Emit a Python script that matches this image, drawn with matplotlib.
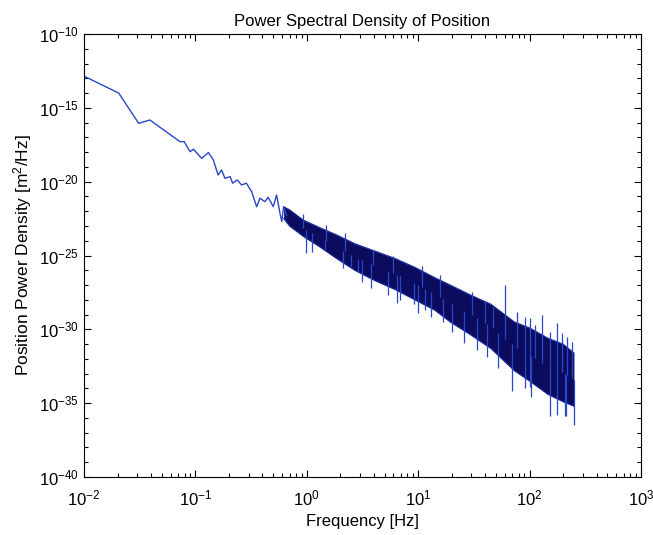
import numpy as np
import matplotlib.pyplot as plt
from matplotlib.ticker import LogLocator, LogFormatterSciNotation, NullFormatter

plt.rcParams['font.family'] = ['Liberation Sans', 'DejaVu Sans']
plt.rcParams['mathtext.default'] = 'regular'

# sparse low-frequency part of the spectrum (Hz, log10 of m^2/Hz)
freq_low = [0.01, 0.0205, 0.031, 0.039, 0.0728, 0.0794, 0.0895, 0.096, 0.114, 0.131,
            0.145, 0.16, 0.172, 0.184, 0.205, 0.216, 0.237, 0.26, 0.287, 0.32,
            0.355, 0.38, 0.42, 0.45, 0.5, 0.536, 0.575, 0.596, 0.62, 0.66]
logpsd_low = [-12.85, -14.0, -16.05, -15.82, -17.29, -17.29, -17.97, -17.8, -18.42, -18.03,
              -18.53, -19.55, -19.2, -19.77, -19.66, -20.1, -19.88, -20.22, -20.1, -20.68,
              -21.7, -21.12, -21.35, -21.06, -21.69, -20.9, -22.14, -22.7, -21.7, -22.3]

# dense part: envelope of the noisy band
freq_band = [0.62, 0.7, 0.93, 1.3, 1.85, 2.7, 4.1, 6.2, 9.35, 14.1, 19.4,
             30.0, 45.0, 73.0, 100.0, 146.0, 200.0, 250.0]
band_upper = [-21.7, -21.9, -22.6, -23.1, -23.6, -24.2, -24.7, -25.2, -25.8, -26.5, -27.0,
              -27.7, -28.3, -29.5, -29.9, -30.6, -31.0, -31.6]
band_lower = [-22.5, -23.0, -23.7, -24.4, -25.2, -26.0, -26.7, -27.3, -28.0, -28.7, -29.5,
              -30.4, -31.3, -32.8, -33.5, -34.4, -34.9, -35.2]

# isolated spikes sticking out of the band
spike_up_freq = [0.93, 1.5, 2.2, 3.97, 6.0, 10.8, 15.8, 30.2, 39.5, 47.0, 60.5, 77.6,
                 91.0, 100.5, 113.0, 130.0, 153.0, 176.0, 195.0, 216.0, 240.0]
spike_up_tip = [-22.2, -22.9, -23.5, -24.6, -25.0, -25.7, -26.3, -27.5, -28.1, -28.5, -27.0, -28.8,
                -29.14, -29.25, -29.7, -29.03, -30.16, -29.6, -30.27, -30.5, -30.83]
spike_dn_freq = [0.98, 1.11, 1.46, 2.13, 2.5, 2.9, 3.1, 3.8, 5.4, 6.4, 6.9, 9.1, 10.0,
                 11.4, 12.9, 16.7, 20.0, 26.0, 33.5, 41.6, 52.5, 69.6, 91.0, 100.0, 104.0,
                 153.0, 176.0, 207.0, 214.0, 251.0]
spike_dn_tip = [-24.85, -24.74, -24.6, -25.86, -25.8, -26.1, -26.77, -27.2, -27.67, -28.2, -28.0,
                -28.3, -28.9, -28.7, -29.14, -29.5, -30.16, -30.94, -31.4, -31.85, -32.64,
                -34.2, -33.99, -33.9, -34.56, -35.9, -35.8, -35.9, -35.9, -36.47]

fig = plt.figure(figsize=(6.53, 5.35), dpi=100)
ax = fig.add_axes([0.1286, 0.1084, 0.853, 0.828])

line_col = '#2846c8'
band_col = '#0c0c5e'

ax.plot(freq_low, 10.0 ** np.array(logpsd_low), color=line_col, lw=1.0)
ax.fill_between(freq_band, 10.0 ** np.array(band_upper), 10.0 ** np.array(band_lower),
                color=band_col, lw=0)
ax.plot(freq_band, 10.0 ** np.array(band_upper), color='#1a2a9a', lw=0.8)
ax.plot(freq_band, 10.0 ** np.array(band_lower), color='#1a2a9a', lw=0.8)

# spikes run from the middle of the band out to their tip
band_mid = (np.array(band_upper) + np.array(band_lower)) / 2
up_base = 10.0 ** np.interp(np.log10(spike_up_freq), np.log10(freq_band), band_mid)
dn_base = 10.0 ** np.interp(np.log10(spike_dn_freq), np.log10(freq_band), band_mid)
ax.vlines(spike_up_freq, up_base, 10.0 ** np.array(spike_up_tip), color=line_col, lw=0.9)
ax.vlines(spike_dn_freq, 10.0 ** np.array(spike_dn_tip), dn_base, color=line_col, lw=0.9)

ax.set_xscale('log')
ax.set_yscale('log')
ax.set_xlim(1e-2, 1e3)
ax.set_ylim(1e-40, 1e-10)

ax.yaxis.set_major_locator(plt.FixedLocator([10.0 ** e for e in range(-40, -9, 5)]))
ax.yaxis.set_major_formatter(LogFormatterSciNotation())
ax.yaxis.set_minor_locator(plt.FixedLocator([10.0 ** e for e in range(-40, -9)]))
ax.yaxis.set_minor_formatter(NullFormatter())
ax.xaxis.set_major_locator(LogLocator(base=10, numticks=10))
ax.xaxis.set_minor_locator(LogLocator(base=10, subs=np.arange(2, 10), numticks=20))
ax.xaxis.set_minor_formatter(NullFormatter())

ax.tick_params(which='both', direction='in', top=True, right=True, labelsize=12)
ax.tick_params(which='major', length=5, width=0.8)
ax.tick_params(which='minor', length=3, width=0.8)
ax.tick_params(axis='x', pad=8)

ax.set_title('Power Spectral Density of Position', fontsize=12)
ax.set_xlabel('Frequency [Hz]', fontsize=12)
ax.set_ylabel('Position Power Density [m$^2$/Hz]', fontsize=12.5)

fig.savefig('out.png', dpi=100)
